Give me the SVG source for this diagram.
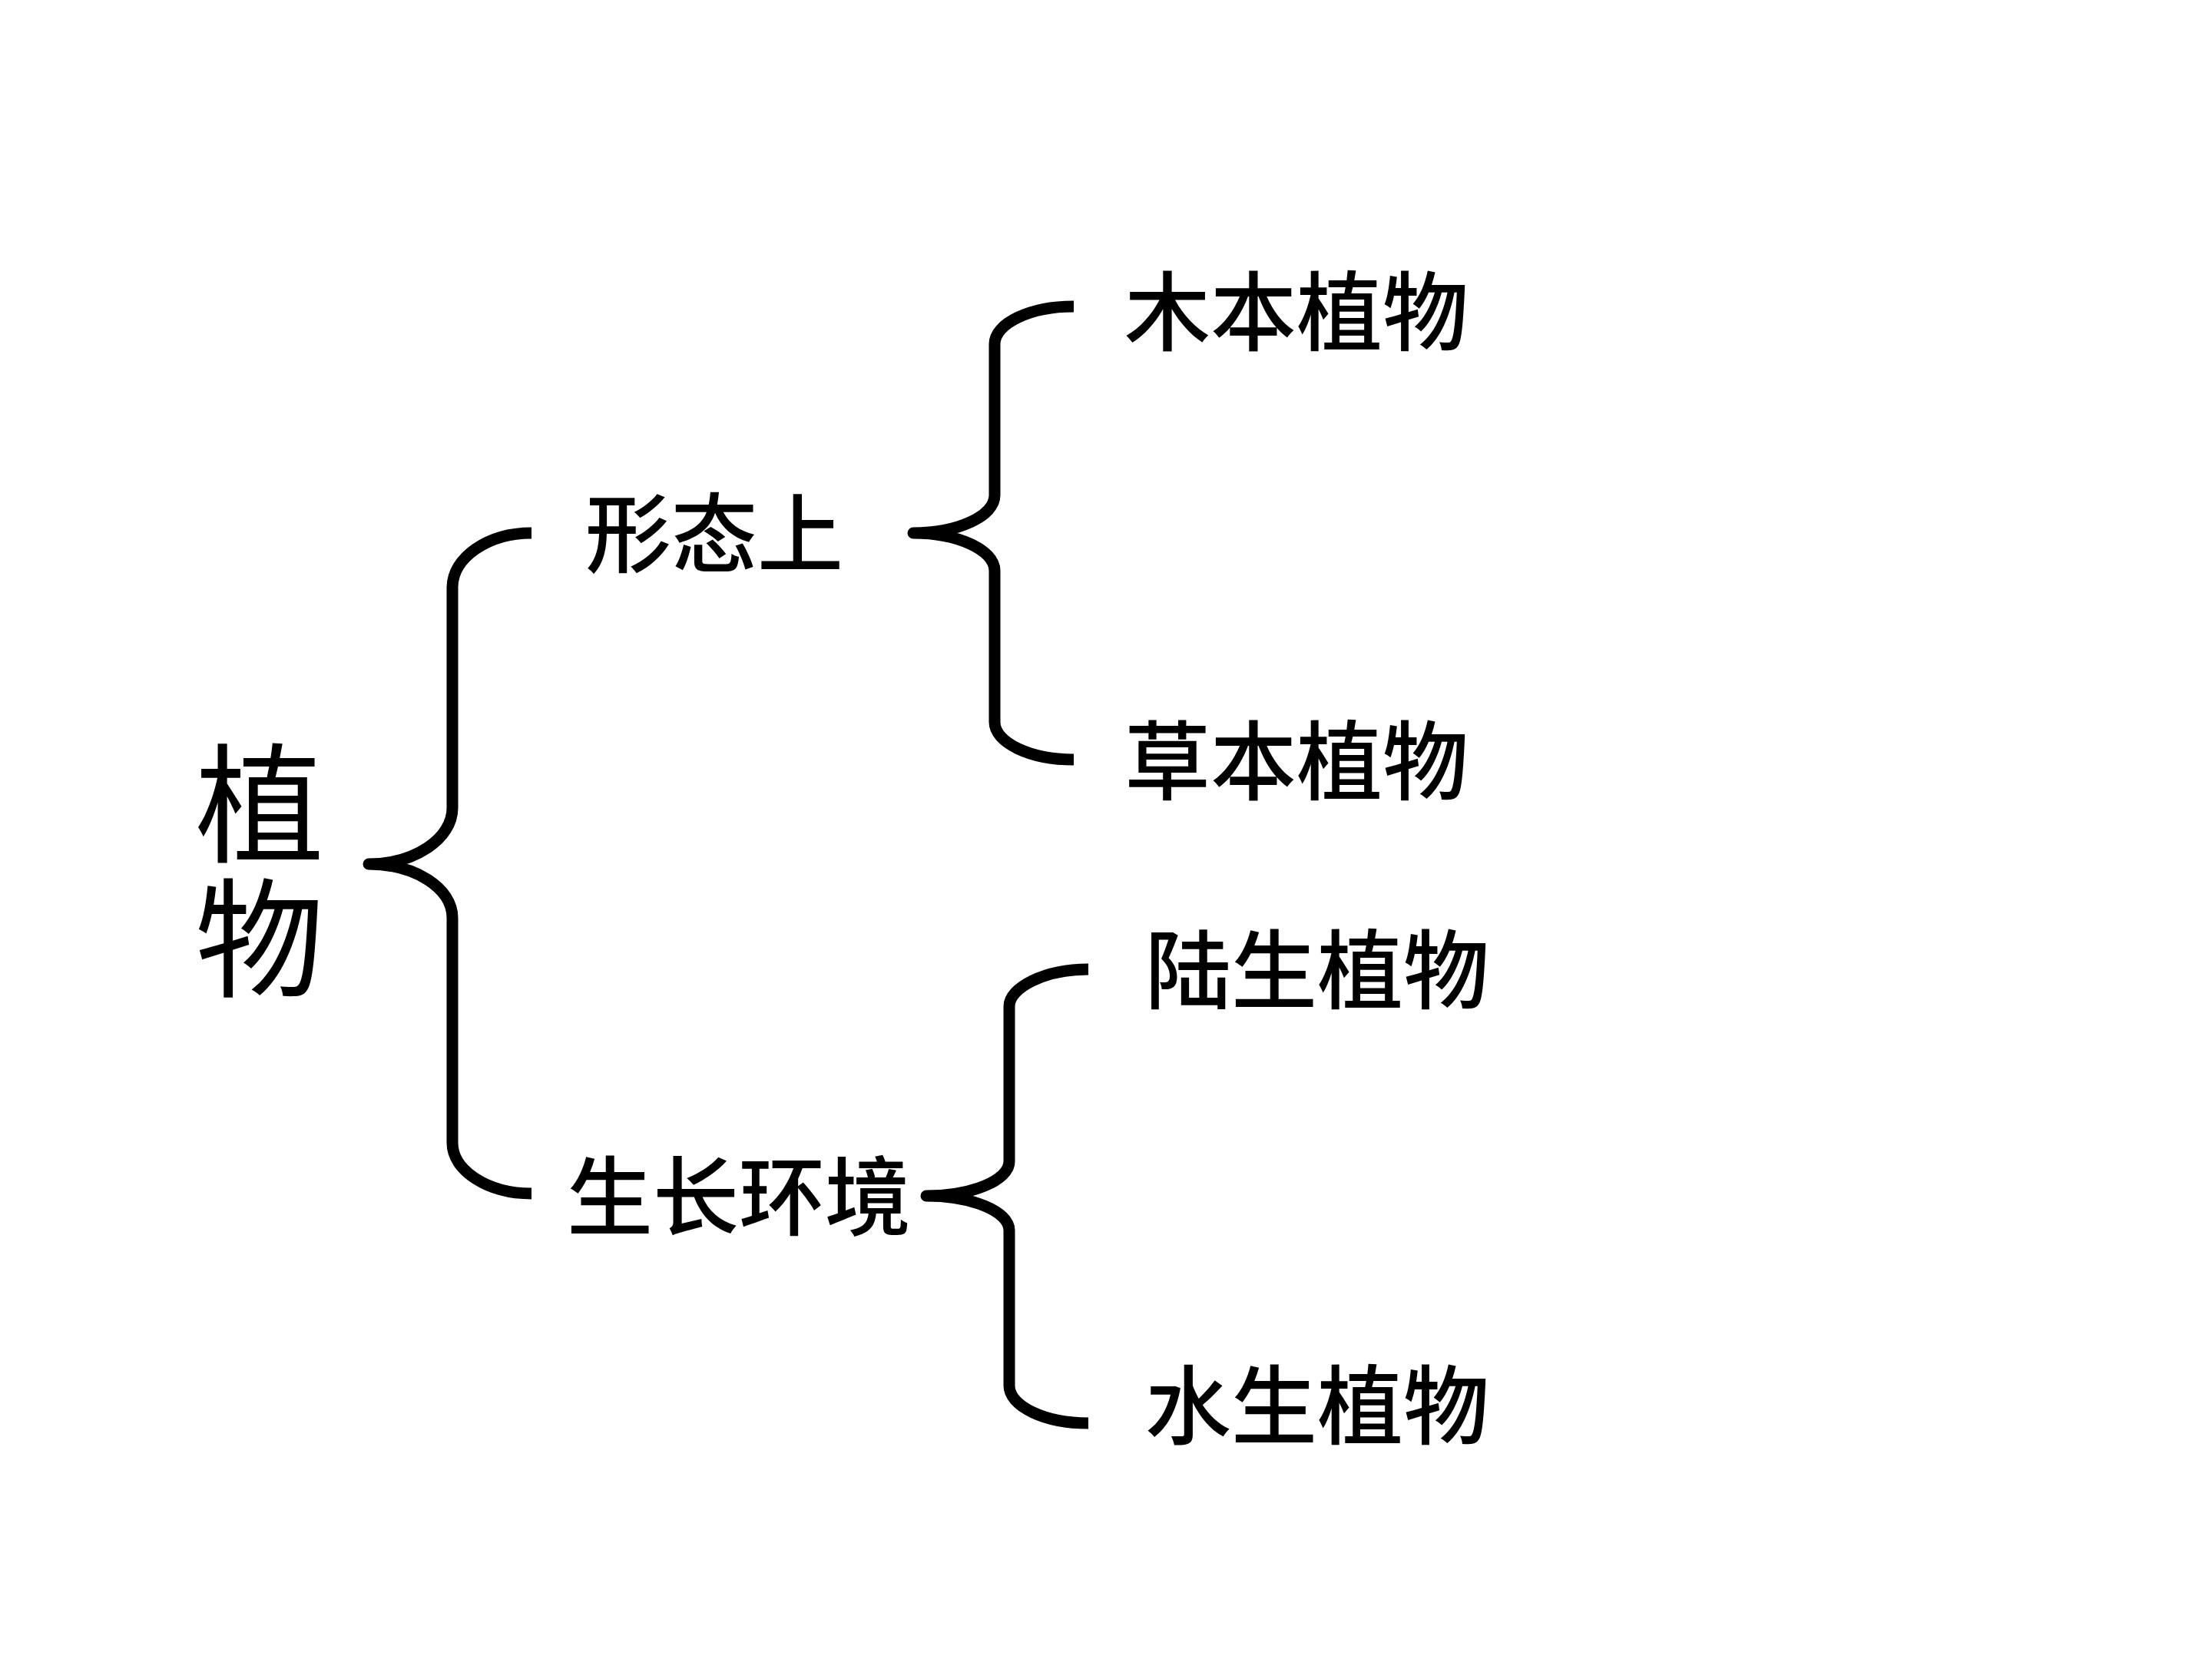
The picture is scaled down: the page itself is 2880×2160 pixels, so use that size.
<svg xmlns="http://www.w3.org/2000/svg" width="2880" height="2160" viewBox="0 0 2880 2160">
<style>
.t{font-family:"Noto Sans CJK SC","Noto Sans CJK JP",sans-serif;fill:#000}
.s{font-size:112px;font-weight:500;dominant-baseline:central}
.b{font-size:168px;writing-mode:vertical-rl;letter-spacing:7px}
.br{fill:none;stroke:#000;stroke-width:15;stroke-linejoin:round;stroke-linecap:butt}
</style>
<rect width="2880" height="2160" fill="#fff"/>
<g id="connectors">
<path class="br" d="M692,694 C635,694 589,726 589,765 L589,1052 C589,1092 540,1125 480,1125 C540,1125 589,1156 589,1195 L589,1488 C589,1524 635,1554 692,1554"/>
<path class="br" d="M1398,399 C1341,399 1295,421 1295,448 L1295,645 C1295,672 1247,694 1189,694 C1247,694 1295,716 1295,743 L1295,940 C1295,967 1341,989 1398,989"/>
<path class="br" d="M1417,1262 C1360,1262 1314,1286 1314,1310 L1314,1512 C1314,1537 1265,1557 1206,1557 C1265,1557 1314,1577 1314,1602 L1314,1804 C1314,1831 1360,1853 1417,1853"/>
</g>
<g id="root"><text class="t b" x="338" y="962">植物</text></g>
<g id="morph"><text class="t s" x="762" y="688">形态上</text></g>
<g id="env"><text class="t s" x="738" y="1551">生长环境</text></g>
<g id="woody"><text class="t s" x="1464" y="399">木本植物</text></g>
<g id="herb"><text class="t s" x="1464" y="984">草本植物</text></g>
<g id="land"><text class="t s" x="1491" y="1256">陆生植物</text></g>
<g id="water"><text class="t s" x="1491" y="1823">水生植物</text></g>
</svg>
